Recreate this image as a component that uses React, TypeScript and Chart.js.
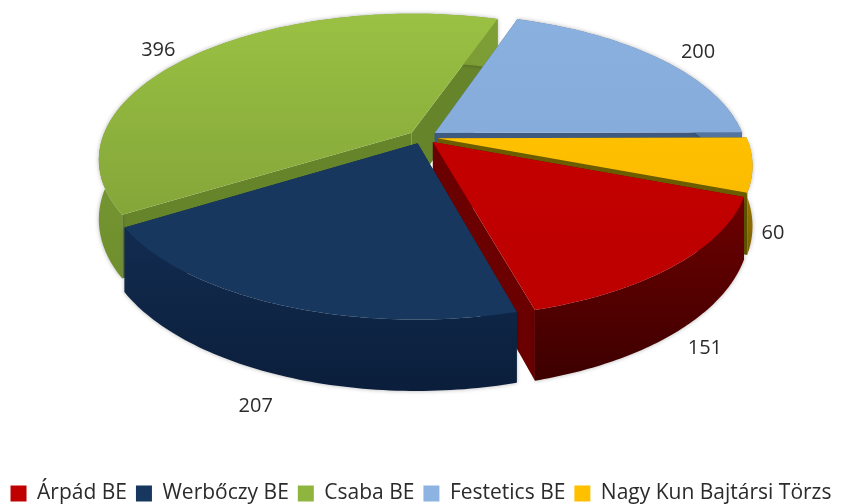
import React, { useEffect, useRef } from "react";
import { Chart, registerables } from "chart.js";

Chart.register(...registerables);

const categories = ["Árpád BE", "Werbőczy BE", "Csaba BE", "Festetics BE", "Nagy Kun Bajtársi Törzs"];
const values = [151, 207, 396, 200, 60];
const legendColors = ["#C00000", "#17375E", "#8FB53E", "#8DB3E2", "#FFC000"];
const topStart = ["#C40000", "#17375E", "#9AC143", "#8AB0E0", "#FFC000"];
const topEnd = ["#BC0000", "#17375E", "#84A639", "#86ACDC", "#FBBC00"];
const wallStart = ["#6E0000", "#122C50", "#7F9F37", "#5F7FA8", "#B38A00"];
const wallEnd = ["#3F0000", "#0B1F3C", "#6F8F2E", "#4F6F98", "#7A6000"];
const cutColors = ["#6A0000", "#10294A", "#66852B", "#3F5A80", "#6B5C00"];
const labelReach = [1.15, 1.19, 1.18, 1.2, 1.11];
const labelTurn = [0, 0, -3, 2, 2];
const wallOrder = [2, 3, 4, 0, 1];

const CX = 423;
const CY = 137;
const AX = 309;
const BY = 142;
const PERSP = 0.18;
const DEPTH = 58;
const LEGEND_SHIFT = 10;

type P = { x: number; y: number; w: number };
const project = (u: number, v: number): P => {
  const w = 1 - PERSP * v;
  return { x: CX + (AX * u) / w, y: CY + (BY * v) / w, w };
};

function sliceGeometry(arc: any) {
  const off = (arc.options.offset || 0) / 4 / arc.outerRadius;
  const mid = (arc.startAngle + arc.endAngle) / 2;
  const ox = Math.cos(mid) * off;
  const oy = Math.sin(mid) * off;
  const rim: P[] = [];
  const steps = 72;
  for (let i = 0; i <= steps; i++) {
    const a = arc.startAngle + ((arc.endAngle - arc.startAngle) * i) / steps;
    rim.push(project(ox + Math.cos(a), oy + Math.sin(a)));
  }
  return { apex: project(ox, oy), rim, mid };
}

const fillPoly = (ctx: CanvasRenderingContext2D, pts: { x: number; y: number }[], fill: any) => {
  ctx.beginPath();
  pts.forEach((p, i) => (i ? ctx.lineTo(p.x, p.y) : ctx.moveTo(p.x, p.y)));
  ctx.closePath();
  ctx.fillStyle = fill;
  ctx.fill();
};

const drop = (p: P) => ({ x: p.x, y: p.y + DEPTH / p.w });

const pie3d = {
  id: "pie3d",
  afterLayout(chart: any) {
    chart.legend.top += LEGEND_SHIFT;
    chart.legend.bottom += LEGEND_SHIFT;
  },
  beforeDatasetDraw(chart: any) {
    const ctx: CanvasRenderingContext2D = chart.ctx;
    const arcs = chart.getDatasetMeta(0).data;
    ctx.save();
    wallOrder.forEach((i) => {
      const { apex, rim } = sliceGeometry(arcs[i]);
      const first = rim[0];
      const last = rim[rim.length - 1];
      fillPoly(ctx, [apex, first, drop(first), drop(apex)], cutColors[i]);
      fillPoly(ctx, [apex, last, drop(last), drop(apex)], cutColors[i]);
      const ys = rim.map((p) => p.y);
      const g = ctx.createLinearGradient(0, Math.min(...ys), 0, Math.max(...ys) + DEPTH * 1.1);
      g.addColorStop(0, wallStart[i]);
      g.addColorStop(1, wallEnd[i]);
      ctx.shadowColor = "rgba(0,0,0,0.3)";
      ctx.shadowBlur = 4;
      fillPoly(ctx, [...rim, ...rim.map(drop).reverse()], g);
      ctx.shadowColor = "transparent";
      ctx.shadowBlur = 0;
    });
    arcs.forEach((arc: any, i: number) => {
      const { apex, rim } = sliceGeometry(arc);
      const pts = [apex, ...rim];
      const ys = pts.map((p) => p.y);
      const g = ctx.createLinearGradient(0, Math.min(...ys), 0, Math.max(...ys));
      g.addColorStop(0, topStart[i]);
      g.addColorStop(1, topEnd[i]);
      fillPoly(ctx, pts, g);
    });
    ctx.restore();
    return false;
  },
  afterDatasetsDraw(chart: any) {
    const ctx: CanvasRenderingContext2D = chart.ctx;
    const arcs = chart.getDatasetMeta(0).data;
    ctx.save();
    ctx.font = '20px "Open Sans"';
    ctx.fillStyle = "#2B2B2B";
    ctx.textAlign = "center";
    ctx.textBaseline = "middle";
    arcs.forEach((arc: any, i: number) => {
      const { mid } = sliceGeometry(arc);
      const a = mid + (labelTurn[i] * Math.PI) / 180;
      const s = Math.sin(a);
      const p = project(Math.cos(a) * labelReach[i], s * labelReach[i]);
      ctx.fillText(String(values[i]), p.x, s > 0 ? p.y + DEPTH / p.w : p.y);
    });
    ctx.restore();
  },
};

export default function App() {
  const ref = useRef<HTMLCanvasElement>(null);
  useEffect(() => {
    const chart = new Chart(ref.current!, {
      type: "pie",
      data: {
        labels: categories,
        datasets: [{ data: values, backgroundColor: legendColors, borderWidth: 0, offset: 40 }],
      },
      options: {
        animation: false,
        responsive: false,
        rotation: 111,
        layout: { padding: { left: 0, right: 0, top: 0, bottom: 0 } },
        plugins: {
          tooltip: { enabled: false },
          legend: {
            position: "bottom",
            labels: {
              boxWidth: 16,
              boxHeight: 16,
              padding: 9,
              color: "#2B2B2B",
              font: { family: '"Open Sans"', size: 21 },
            },
          },
        },
      },
      plugins: [pie3d],
    } as any);
    return () => chart.destroy();
  }, []);
  return (
    <div style={{ position: "absolute", left: 0, top: 0, width: 842, height: 504, background: "#fff" }}>
      <canvas ref={ref} width={842} height={504} style={{ display: "block", filter: "blur(0.4px)" }} />
    </div>
  );
}
